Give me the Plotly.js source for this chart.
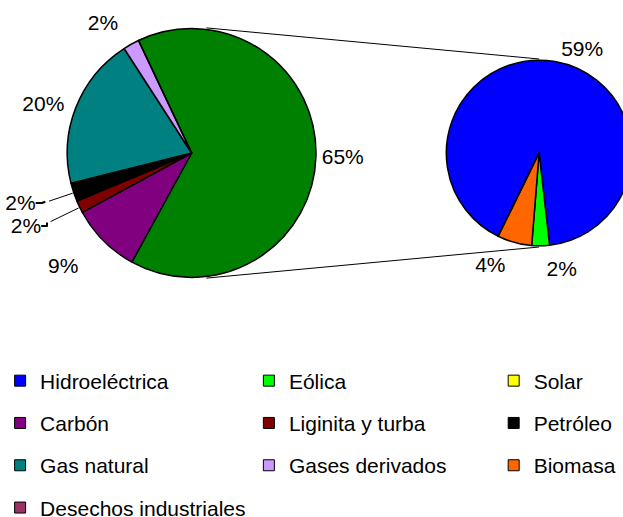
<!DOCTYPE html>
<html>
<head>
<meta charset="utf-8">
<script src="https://cdn.plot.ly/plotly-3.0.1.min.js"></script>
<style>
  html, body { margin: 0; padding: 0; overflow: hidden; background: #fff; width: 623px; height: 517px; }
  #chart { position: absolute; left: 0; top: -20px; width: 700px; height: 620px; }
</style>
</head>
<body>
<div id="chart"></div>
<script>
// ---- data ----
// Right pie: breakdown of renewables (values are % of total)
const renLabels = ['Hidroeléctrica', 'Eólica', 'Biomasa', 'Solar'];
const renValues = [59.1, 2.0, 3.9, 0.02];
// Left pie: other sources (% of total); first slice = sum of the renewables
const mainLabels = ['Renovables', 'Carbón', 'Liginita y turba', 'Petróleo', 'Gas natural', 'Gases derivados', 'Desechos industriales'];
const mainOtherValues = [9.1, 1.6, 2.4, 19.8, 2.1, 0];
// Legend order (3 per row)
const legendLabels = ['Hidroeléctrica', 'Eólica', 'Solar', 'Carbón', 'Liginita y turba', 'Petróleo', 'Gas natural', 'Gases derivados', 'Biomasa', 'Desechos industriales'];

// ---- styles ----
const colors = {
  'Renovables': '#008000',
  'Hidroeléctrica': '#0000FF',
  'Eólica': '#00FF00',
  'Solar': '#FFFF00',
  'Carbón': '#800080',
  'Liginita y turba': '#800000',
  'Petróleo': '#000000',
  'Gas natural': '#008080',
  'Gases derivados': '#CC99FF',
  'Biomasa': '#FF6600',
  'Desechos industriales': '#993366'
};
// label offsets (fraction of radius) per slice, to place labels like the original
const mainLabelPull = [0, 0.22, 0.29, 0.24, 0.05, 0.12, 0];
const renLabelPull = [0.02, 0.12, 0.13, 0];
const FONT = 'Liberation Sans, Arial, sans-serif';
const FS = 21;
const W = 700, H = 620, OX = 0, OY = 20;
// pie geometry in page px (center x, center y, radius)
const LP = {cx: 185, cy: 153, r: 126};
const RP = {cx: 537, cy: 153, r: 94};
function dom(p, k) {
  const cx = p.cx + OX, cy = p.cy + OY, h = p.r * k;
  return {
    x: [(cx - h) / W, (cx + h) / W],
    y: [(H - (cy + h)) / H, (H - (cy - h)) / H]
  };
}
const px = x => (x + OX) / W;
const py = y => (H - (y + OY)) / H;

const renTotal = renValues.reduce((a, b) => a + b, 0);
const mainValues = [renTotal].concat(mainOtherValues);
const mainTotal = mainValues.reduce((a, b) => a + b, 0);
const mainRot = -25.3, renRot = -153.7;

function tmpl(vals) {
  return vals.map(v => v >= 0.5 ? '%{value:.0f}%' : '');
}
const maxOf = a => Math.max.apply(null, a);

function pieTrace(labels, values, rot, p) {
  return {
    type: 'pie', labels: labels, values: values, sort: false, direction: 'clockwise',
    rotation: rot, domain: dom(p, 1),
    marker: {colors: labels.map(l => colors[l]), line: {color: '#000', width: 1.5}},
    textinfo: 'none', showlegend: false, hoverinfo: 'label+value'
  };
}
function labelTrace(labels, values, rot, p, pulls) {
  return {
    type: 'pie', labels: labels, values: values, sort: false, direction: 'clockwise',
    rotation: rot, domain: dom(p, 1 + maxOf(pulls)), pull: pulls,
    marker: {colors: labels.map(() => 'rgba(0,0,0,0)'), line: {width: 0}},
    texttemplate: tmpl(values), textposition: 'outside',
    outsidetextfont: {family: FONT, size: FS, color: '#000'},
    showlegend: false, hoverinfo: 'skip'
  };
}

const traces = [
  pieTrace(mainLabels, mainValues, mainRot, LP),
  pieTrace(renLabels, renValues, renRot, RP),
  labelTrace(mainLabels, mainValues, mainRot, LP, mainLabelPull),
  labelTrace(renLabels, renValues, renRot, RP, renLabelPull)
];

// legend-only entries: one vertical legend per column
const legendIds = ['legend', 'legend2', 'legend3'];
legendLabels.forEach((lab, i) => {
  traces.push({
    type: 'scatter', mode: 'markers', x: [null], y: [null],
    name: lab, legend: legendIds[i % 3], legendgroup: 'g' + i,
    marker: {symbol: 'square', size: 11, color: colors[lab], line: {color: '#000', width: 1}},
    hoverinfo: 'skip'
  });
});

const colX = [-9, 243, 491];
const legendTop = 360.5;
const layout = {
  width: W, height: H,
  margin: {l: 0, r: 0, t: 0, b: 0},
  paper_bgcolor: '#fff', plot_bgcolor: '#fff',
  showlegend: true,
  xaxis: {visible: false, range: [0, 1]},
  yaxis: {visible: false, range: [0, 1]},
  font: {family: FONT, size: FS, color: '#000'},
  shapes: []
};
legendIds.forEach((id, k) => {
  layout[id] = {
    orientation: 'v', traceorder: 'grouped', tracegroupgap: 12,
    x: px(colX[k]), xanchor: 'left',
    y: py(legendTop), yanchor: 'top',
    itemwidth: 30,
    bgcolor: 'rgba(0,0,0,0)', borderwidth: 0,
    font: {family: FONT, size: FS, color: '#000'},
    itemclick: false, itemdoubleclick: false
  };
});

// connector lines between the pies (computed from pie geometry)
function pt(p, deg, rr) {
  const a = deg * Math.PI / 180;
  const R = rr === undefined ? p.r : rr;
  return [p.cx + R * Math.sin(a), p.cy - R * Math.cos(a)];
}
function seg(a, b) {
  layout.shapes.push({
    type: 'line', xref: 'paper', yref: 'paper', layer: 'below',
    x0: px(a[0]), y0: py(a[1]), x1: px(b[0]), y1: py(b[1]),
    line: {color: '#000', width: 1}
  });
}
seg(pt(LP, 6.8), pt(RP, 0));
seg(pt(LP, 173.2), pt(RP, 180));

// leader lines for the small, pushed-out labels of the left pie
let acc = 0;
mainValues.forEach((v, i) => {
  const mid = mainRot + (acc + v / 2) / mainTotal * 360;
  acc += v;
  if (mainLabelPull[i] >= 0.24 && v < 5) {
    seg(pt(LP, mid, LP.r + 1), pt(LP, mid, LP.r * (1 + mainLabelPull[i]) - 4));
  }
});

Plotly.newPlot('chart', traces, layout, {displayModeBar: false, staticPlot: true});
</script>
</body>
</html>
